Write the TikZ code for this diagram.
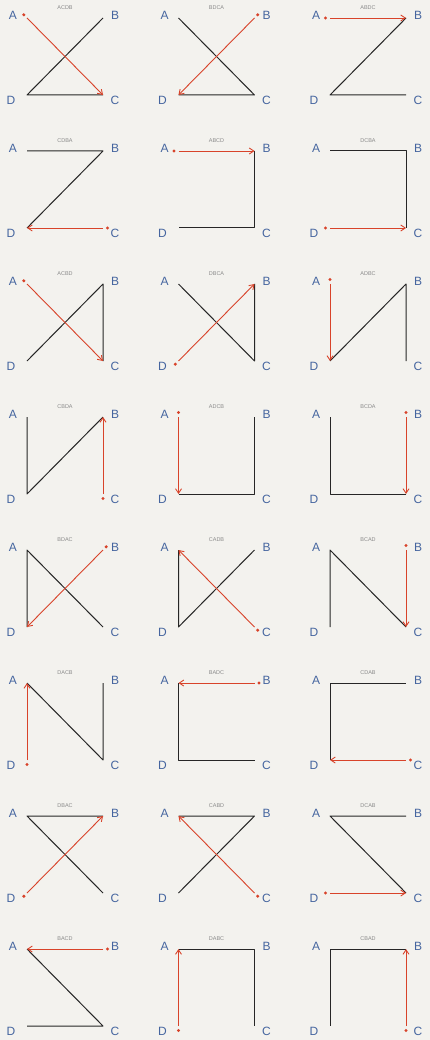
\documentclass[tikz,border=0pt]{standalone}
\usepackage{fontspec}
\setmainfont{Liberation Sans}
\usetikzlibrary{arrows.meta,calc}
\definecolor{paper}{HTML}{F3F2EE}
\definecolor{ink}{HTML}{262626}
\definecolor{redink}{HTML}{D8432A}
\definecolor{blueink}{HTML}{45659F}
\definecolor{greyink}{HTML}{8A8A8A}
\tikzset{
  blk/.style={draw=ink,line width=1pt,line join=round},
  rd/.style={draw=redink,line width=0.9pt,-{Straight Barb[length=4.5pt,width=6pt,line width=0.9pt]}},
  lab/.style={text=blueink,font=\fontsize{12}{12}\selectfont,inner sep=0pt},
  ttl/.style={text=greyink,font=\fontsize{5.5}{5.5}\selectfont,inner sep=0pt}
}
\begin{document}
\begin{tikzpicture}[x=1pt,y=-1pt]
\fill[paper] (0,0) rectangle (430,1040);
\useasboundingbox (0,0) rectangle (430,1040);
\foreach \i/\pa/\pb/\pc/\pd in {
 0/A/C/D/B, 1/B/D/C/A, 2/A/B/D/C,
 3/C/D/B/A, 4/A/B/C/D, 5/D/C/B/A,
 6/A/C/B/D, 7/D/B/C/A, 8/A/D/B/C,
 9/C/B/D/A, 10/A/D/C/B, 11/B/C/D/A,
 12/B/D/A/C, 13/C/A/D/B, 14/B/C/A/D,
 15/D/A/C/B, 16/B/A/D/C, 17/C/D/A/B,
 18/D/B/A/C, 19/C/A/B/D, 20/D/C/A/B,
 21/B/A/C/D, 22/D/A/B/C, 23/C/B/A/D}{
 \pgfmathsetmacro\col{int(mod(\i,3))}
 \pgfmathsetmacro\row{int(\i/3)}
 \pgfmathsetmacro\xa{27+151.5*\col}
 \pgfmathsetmacro\ya{18+133*\row}
 \coordinate (c\i A) at (\xa,\ya);
 \coordinate (c\i B) at (\xa+76,\ya);
 \coordinate (c\i C) at (\xa+76,\ya+77);
 \coordinate (c\i D) at (\xa,\ya+77);
 \node[lab] (lA\i) at ($(c\i A)+(-14,-3)$) {A};
 \node[lab] (lB\i) at ($(c\i B)+(12,-3)$) {B};
 \node[lab] (lC\i) at ($(c\i C)+(12,5)$) {C};
 \node[lab] (lD\i) at ($(c\i D)+(-16,5)$) {D};
 \node[ttl] (t\i) at ($(c\i A)!0.5!(c\i B)+(0,-10)$) {\pa\pb\pc\pd};
 \draw[blk] (c\i\pb) -- (c\i\pc) -- (c\i\pd);
 \draw[rd] (c\i\pa) -- (c\i\pb);
 \fill[redink] ($(c\i\pa)!-4.5pt!(c\i\pb)$) circle (1.7);
}
\end{tikzpicture}
\end{document}
